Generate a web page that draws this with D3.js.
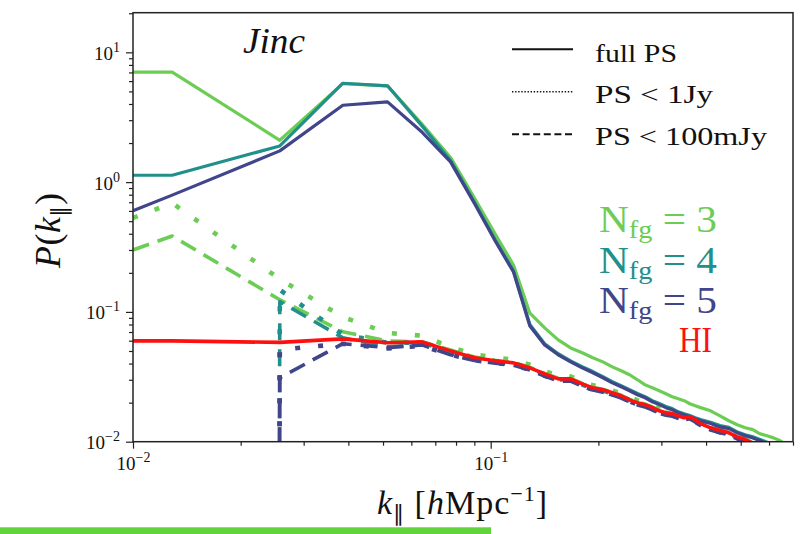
<!DOCTYPE html>
<html>
<head>
<meta charset="utf-8">
<script src="https://cdn.jsdelivr.net/npm/d3@7"></script>
<style>
  body { margin: 0; background: #fff; }
  svg { display: block; }
  text { font-family: "Liberation Serif", "Times New Roman", serif; fill: #111; }
</style>
</head>
<body>
<svg id="chart" width="807" height="534"></svg>
<script>
// k_parallel grid [h/Mpc]
const kPar = [0.01, 0.01287, 0.02573, 0.0386, 0.05147, 0.06434, 0.0772, 0.09007, 0.10294, 0.1158,
  0.12867, 0.14154, 0.1544, 0.16727, 0.18014, 0.193, 0.20587, 0.21874, 0.2316, 0.24447,
  0.25734, 0.2702, 0.28307, 0.29594, 0.3088, 0.32167, 0.33454, 0.3474, 0.36027, 0.37314,
  0.386, 0.41174, 0.43748, 0.46321, 0.48895, 0.51468, 0.54041, 0.56615, 0.59188, 0.61762, 0.64335, 0.66908, 0.69482];

// HI signal
const hiSignal = [0.0598, 0.0598, 0.0582, 0.0620, 0.0578, 0.0588, 0.0501, 0.0443, 0.0420, 0.0405,
  0.0371, 0.0333, 0.0305, 0.0305, 0.0279, 0.0260, 0.0251, 0.0238, 0.0226, 0.0210,
  0.0200, 0.0193, 0.0183, 0.0173, 0.0167, 0.0164, 0.0158, 0.0153, 0.0156, 0.0148,
  0.0138, 0.0128, 0.0122, 0.0117, 0.0109, 0.0104, 0.0097, 0.0092, 0.0087, 0.0082, 0.0078, 0.0074, 0.0070];

// Nfg = 3 residuals
const nfg3Full = [7.05, 7.05, 2.10, 5.74, 5.51, 2.79, 1.55, 0.753, 0.398, 0.230,
  0.0977, 0.0753, 0.0609, 0.0528, 0.0484, 0.0443, 0.0412, 0.0377, 0.0352, 0.0328,
  0.0300, 0.0274, 0.0260, 0.0247, 0.0234, 0.0222, 0.0214, 0.0207, 0.0196, 0.0189,
  0.0183, 0.0173, 0.0158, 0.0145, 0.0135, 0.0128, 0.0124, 0.0115, 0.0111, 0.0107, 0.0102, 0.0095, 0.0090];
const nfg3Jy = [0.53, 0.689, 0.179, 0.0913, 0.0689, 0.0655, 0.0537, 0.0470, 0.0445, 0.0428,
  0.0392, 0.0350, 0.0322, 0.0318, 0.0292, 0.0272, 0.0262, 0.0248, 0.0236, 0.0219,
  0.0209, 0.0201, 0.0191, 0.0180, 0.0174, 0.0171, 0.0165, 0.0159, 0.0162, 0.0154,
  0.0144, 0.0133, 0.0127, 0.0122, 0.0113, 0.0108, 0.0101, 0.0096, 0.0091, 0.0086, 0.0081, 0.0077, 0.0073];
const nfg3mJy = [0.30, 0.384, 0.124, 0.0703, 0.0597, 0.0588, 0.0510, 0.0450, 0.0424, 0.0408,
  0.0374, 0.0336, 0.0308, 0.0307, 0.0281, 0.0262, 0.0253, 0.0240, 0.0228, 0.0212,
  0.0202, 0.0195, 0.0185, 0.0175, 0.0169, 0.0165, 0.0160, 0.0155, 0.0157, 0.0150,
  0.0140, 0.0129, 0.0123, 0.0118, 0.0110, 0.0105, 0.0098, 0.0093, 0.0088, 0.0083, 0.0079, 0.0075, 0.0071];

// Nfg = 4 residuals (non-positive values are clipped like a log plot does)
const nfg4Full = [1.13, 1.13, 1.90, 5.78, 5.52, 2.70, 1.47, 0.70, 0.36, 0.207,
  0.080, 0.0568, 0.0476, 0.0420, 0.0378, 0.0347, 0.0317, 0.0290, 0.0270, 0.0252,
  0.0235, 0.0222, 0.0207, 0.0197, 0.0187, 0.0180, 0.0170, 0.0164, 0.0159, 0.0153,
  0.0148, 0.0141, 0.0133, 0.0129, 0.0119, 0.0113, 0.0109, 0.0104, 0.0099, 0.0094, 0.0089, 0.0084, 0.0080];
const nfg4Jy = [0, 0, 0.148, 0.067, 0.0578, 0.0580, 0.0495, 0.0440, 0.0416, 0.0401,
  0.0367, 0.0330, 0.0302, 0.0302, 0.0276, 0.0257, 0.0248, 0.0236, 0.0224, 0.0208,
  0.0198, 0.0191, 0.0181, 0.0171, 0.0165, 0.0162, 0.0156, 0.0151, 0.0154, 0.0146,
  0.0137, 0.0127, 0.0121, 0.0116, 0.0108, 0.0103, 0.0096, 0.0091, 0.0086, 0.0081, 0.0077, 0.0073, 0.0069];
const nfg4mJy = [0, 0, 0.120, 0.0632, 0.0539, 0.0557, 0.0480, 0.0432, 0.0410, 0.0396,
  0.0364, 0.0327, 0.0299, 0.0299, 0.0274, 0.0255, 0.0246, 0.0234, 0.0222, 0.0206,
  0.0196, 0.0189, 0.0179, 0.0170, 0.0164, 0.0160, 0.0155, 0.0150, 0.0152, 0.0145,
  0.0136, 0.0126, 0.0120, 0.0115, 0.0107, 0.0102, 0.0095, 0.0090, 0.0085, 0.0080, 0.0076, 0.0072, 0.0068];

// Nfg = 5 residuals
const nfg5Full = [0.601, 0.794, 1.741, 3.91, 4.15, 2.42, 1.433, 0.684, 0.352, 0.203,
  0.078, 0.0557, 0.0467, 0.0412, 0.0371, 0.0340, 0.0311, 0.0284, 0.0265, 0.0247,
  0.0230, 0.0218, 0.0203, 0.0193, 0.0183, 0.0176, 0.0167, 0.0161, 0.0156, 0.0150,
  0.0145, 0.0138, 0.0130, 0.0126, 0.0117, 0.0111, 0.0107, 0.0102, 0.0097, 0.0092, 0.0087, 0.0082, 0.0078];
const nfg5Jy = [0, 0, 0.0511, 0.0569, 0.0522, 0.0548, 0.0467, 0.0425, 0.0404, 0.0390,
  0.0358, 0.0322, 0.0295, 0.0295, 0.0270, 0.0251, 0.0243, 0.0231, 0.0219, 0.0204,
  0.0194, 0.0187, 0.0177, 0.0168, 0.0162, 0.0159, 0.0153, 0.0148, 0.0151, 0.0143,
  0.0134, 0.0124, 0.0118, 0.0114, 0.0106, 0.0101, 0.0094, 0.0089, 0.0084, 0.0080, 0.0076, 0.0072, 0.0068];
const nfg5mJy = [0, 0, 0.0311, 0.0569, 0.0530, 0.0557, 0.0467, 0.0422, 0.0402, 0.0388,
  0.0356, 0.0320, 0.0293, 0.0293, 0.0268, 0.0250, 0.0241, 0.0229, 0.0217, 0.0202,
  0.0192, 0.0185, 0.0176, 0.0166, 0.0160, 0.0157, 0.0152, 0.0147, 0.0150, 0.0142,
  0.0133, 0.0123, 0.0117, 0.0113, 0.0105, 0.0100, 0.0093, 0.0088, 0.0083, 0.0079, 0.0075, 0.0071, 0.0067];

// axis ticks
const xMajor = [0.01, 0.1];
const xMajorExp = ["−2", "−1"];
const xMinor = [0.02, 0.03, 0.04, 0.05, 0.06, 0.07, 0.08, 0.09, 0.2, 0.3, 0.4, 0.5, 0.6, 0.7];
const yMajor = [0.01, 0.1, 1, 10];
const yMajorExp = ["−2", "−1", "0", "1"];
const yMinor = [0.02, 0.03, 0.04, 0.05, 0.06, 0.07, 0.08, 0.09, 0.2, 0.3, 0.4, 0.5, 0.6, 0.7, 0.8, 0.9,
  2, 3, 4, 5, 6, 7, 8, 9, 20];

const legendLabels = ["full PS", "PS < 1Jy", "PS < 100mJy"];
const nfgLabels = ["3", "4", "5"];

const colGreen = "#6ccd55", colTeal = "#21908c", colBlue = "#414589", colRed = "#ff1010";
const dashStyles = { full: null, jy: "5,18", mjy: "17,9" };
const widthStyles = { full: 3.2, jy: 4.6, mjy: 3.6 };

const svg = d3.select("#chart");
const x = d3.scaleLog().domain([0.01, 0.7]).range([133, 793]);
const y = d3.scaleLog().domain([0.01, 20.2]).range([441.7, 12.7]);

// plotted series, in drawing order
const series = [
  { v: nfg3Full, c: colGreen, s: "full" },
  { v: nfg3Jy, c: colGreen, s: "jy" },
  { v: nfg3mJy, c: colGreen, s: "mjy" },
  { v: nfg4Full, c: colTeal, s: "full" },
  { v: nfg4Jy, c: colTeal, s: "jy" },
  { v: nfg4mJy, c: colTeal, s: "mjy" },
  { v: nfg5Full, c: colBlue, s: "full" },
  { v: nfg5Jy, c: colBlue, s: "jy" },
  { v: nfg5mJy, c: colBlue, s: "mjy" },
  { v: hiSignal, c: colRed, s: "full", w: 3.6 }
];

svg.append("defs").append("clipPath").attr("id", "plotClip")
  .append("rect").attr("x", 133).attr("y", 12.7).attr("width", 660).attr("height", 429);

const line = d3.line()
  .x(d => x(d[0]))
  .y(d => y(d[1] > 0 ? d[1] : 1e-300));

const plot = svg.append("g").attr("clip-path", "url(#plotClip)");
series.forEach(sr => {
  plot.append("path")
    .datum(kPar.map((k, i) => [k, sr.v[i]]))
    .attr("d", line)
    .attr("fill", "none")
    .attr("stroke", sr.c)
    .attr("stroke-width", sr.w || widthStyles[sr.s])
    .attr("stroke-dasharray", dashStyles[sr.s])
    .attr("stroke-linejoin", "round")
    .attr("stroke-linecap", "butt");
});

// axes
function styleAxis(g) {
  g.select(".domain").remove();
  g.selectAll(".tick line").attr("stroke", "#222").attr("stroke-width", 1.2);
}
function powerLabel(t, exp) {
  t.text(null);
  t.append("tspan").text("10");
  t.append("tspan").attr("dy", -8).attr("font-size", 14).text(exp);
}

const gx = svg.append("g").attr("transform", "translate(0,441.7)");
gx.append("g").call(d3.axisBottom(x).tickValues(xMinor).tickSize(4).tickFormat(() => "")).call(styleAxis);
const gxMaj = gx.append("g").call(d3.axisBottom(x).tickValues(xMajor).tickSize(7).tickPadding(10)).call(styleAxis);
gxMaj.selectAll(".tick text")
  .attr("font-size", 19).attr("fill", "#111").attr("dy", null).attr("y", 28)
  .style("font-family", '"Liberation Serif", serif')
  .each(function (d, i) { powerLabel(d3.select(this), xMajorExp[i]); });

const gy = svg.append("g").attr("transform", "translate(133,0)");
gy.append("g").call(d3.axisLeft(y).tickValues(yMinor).tickSize(4).tickFormat(() => "")).call(styleAxis);
const gyMaj = gy.append("g").call(d3.axisLeft(y).tickValues(yMajor).tickSize(7)).call(styleAxis);
gyMaj.selectAll(".tick text")
  .attr("font-size", 19).attr("fill", "#111").attr("x", -13).attr("dy", 7)
  .style("font-family", '"Liberation Serif", serif')
  .each(function (d, i) { powerLabel(d3.select(this), yMajorExp[i]); });

// frame
svg.append("rect").attr("x", 133).attr("y", 12.7).attr("width", 660).attr("height", 429)
  .attr("fill", "none").attr("stroke", "#222").attr("stroke-width", 1.5);

// axis titles
const xt = svg.append("text").attr("x", 377).attr("y", 514).attr("font-size", 34)
  .attr("textLength", 170).attr("lengthAdjust", "spacing");
xt.append("tspan").attr("font-style", "italic").text("k");
xt.append("tspan").attr("font-size", 22).attr("dy", 7).text("∥");
xt.append("tspan").attr("dy", -7).text(" [");
xt.append("tspan").attr("font-style", "italic").text("h");
xt.append("tspan").text("Mpc");
xt.append("tspan").attr("font-size", 22).attr("dy", -13).text("−1");
xt.append("tspan").attr("dy", 13).text("]");

const yt = svg.append("text").attr("transform", "translate(60,268) rotate(-90)")
  .attr("font-size", 36).attr("textLength", 75).attr("lengthAdjust", "spacing");
yt.append("tspan").attr("font-style", "italic").text("P");
yt.append("tspan").text("(");
yt.append("tspan").attr("font-style", "italic").text("k");
yt.append("tspan").attr("font-size", 22).attr("dy", 7).text("∥");
yt.append("tspan").attr("dy", -7).text(")");

// beam label
svg.append("text").attr("x", 243).attr("y", 52.7).attr("font-size", 36)
  .attr("font-style", "italic").attr("textLength", 62).attr("lengthAdjust", "spacingAndGlyphs")
  .text("Jinc");

// line-style legend
const legY = [49.3, 91.7, 134.3];
const legBase = [61.7, 102.7, 145];
const legW = [82, 118, 172];
const legDash = [null, "1.4,1.7", "7,3.6"];
legendLabels.forEach((lab, i) => {
  svg.append("line").attr("x1", 512).attr("x2", 573).attr("y1", legY[i]).attr("y2", legY[i])
    .attr("stroke", "#111").attr("stroke-width", i === 1 ? 1.6 : 2)
    .attr("stroke-dasharray", legDash[i]);
  svg.append("text").attr("x", 595).attr("y", legBase[i]).attr("font-size", 26)
    .attr("textLength", legW[i]).attr("lengthAdjust", "spacingAndGlyphs").text(lab);
});

// foreground-mode labels
const nfgColors = [colGreen, colTeal, colBlue];
const nfgBase = [231.7, 273.3, 312.7];
nfgLabels.forEach((n, i) => {
  const t = svg.append("text").attr("x", 599).attr("y", nfgBase[i]).attr("font-size", 38)
    .style("fill", nfgColors[i]).attr("textLength", 118).attr("lengthAdjust", "spacingAndGlyphs");
  t.append("tspan").text("N");
  t.append("tspan").attr("font-size", 26).attr("dy", 6).text("fg");
  t.append("tspan").attr("dy", -6).text(" = " + n);
});
svg.append("text").attr("x", 679).attr("y", 351.7).attr("font-size", 35)
  .style("fill", colRed).attr("textLength", 33).attr("lengthAdjust", "spacingAndGlyphs").text("HI");

// bottom accent bar
svg.append("rect").attr("x", 0).attr("y", 527.3).attr("width", 491).attr("height", 7).attr("fill", "#60d43a");
</script>
</body>
</html>
